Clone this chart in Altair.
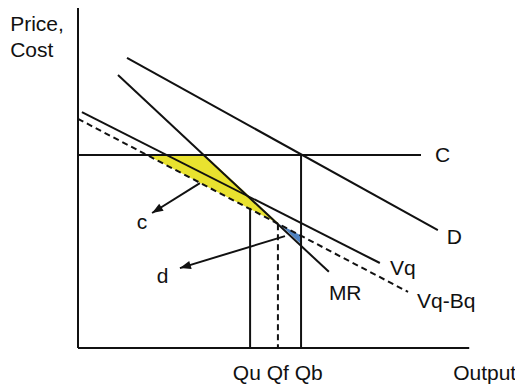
import math
import altair as alt
import pandas as pd

# ---- plot geometry (data units 0..100 on both axes) ----
W, H = 392, 340
X_DOMAIN = [0, 100]
Y_DOMAIN = [0, 100]

# ---- solid line segments (x1, y1) -> (x2, y2) ----
solid_names = ["D", "MR", "Vq", "C", "Qu", "Qb", "yaxis", "xaxis"]
solid_x1 = [12.5, 10.2, 1.0, 0.0, 43.9, 56.9, 0.0, 0.0]
solid_y1 = [85.3, 80.3, 69.4, 56.8, 41.2, 56.8, 100.0, 0.0]
solid_x2 = [91.8, 64.0, 77.0, 87.5, 43.9, 56.9, 0.0, 99.8]
solid_y2 = [34.7, 22.4, 25.0, 56.8, 0.0, 0.0, 0.0, 0.0]

# ---- dashed line segments ----
dash_names = ["Vq-Bq", "Qf"]
dash_x1 = [0.0, 51.0]
dash_y1 = [67.4, 36.4]
dash_x2 = [84.2, 51.0]
dash_y2 = [16.5, 0.0]

# ---- shaded regions (x, upper y, lower y) ----
yellow_x = [17.6, 32.4, 51.4]
yellow_top = [56.8, 56.8, 36.4]
yellow_bot = [56.8, 47.8, 36.4]

blue_x = [51.4, 56.9]
blue_top = [36.4, 33.1]
blue_bot = [36.4, 30.6]

# ---- arrows (start -> tip) ----
arrow_names = ["c", "d"]
arrow_x1 = [31.1, 52.8]
arrow_y1 = [48.5, 32.9]
arrow_x2 = [18.9, 26.0]
arrow_y2 = [39.7, 23.5]

# ---- text labels (left edge, baseline) ----
label_text = ["Price,", "Cost", "c", "d", "Qu Qf Qb", "Output",
              "MR", "Vq", "Vq-Bq", "D", "C"]
label_x = [-17.3, -17.3, 15.0, 20.1, 39.5, 95.7,
           64.0, 79.6, 86.5, 94.1, 91.1]
label_y = [93.2, 85.6, 35.0, 19.1, -9.4, -9.4,
           14.1, 21.5, 11.8, 30.6, 54.7]

BLACK = "#111111"
YELLOW = "#e9e22f"
BLUE = "#4f82c0"
FONT = "Liberation Sans"

xs = alt.Scale(domain=X_DOMAIN, nice=False, zero=False)
ys = alt.Scale(domain=Y_DOMAIN, nice=False, zero=False)

solid_df = pd.DataFrame({"name": solid_names, "x1": solid_x1, "y1": solid_y1,
                         "x2": solid_x2, "y2": solid_y2})
dash_df = pd.DataFrame({"name": dash_names, "x1": dash_x1, "y1": dash_y1,
                        "x2": dash_x2, "y2": dash_y2})
yellow_df = pd.DataFrame({"x": yellow_x, "top": yellow_top, "bot": yellow_bot})
blue_df = pd.DataFrame({"x": blue_x, "top": blue_top, "bot": blue_bot})

# arrowhead angles from the data direction in pixel space
px_per_x = W / (X_DOMAIN[1] - X_DOMAIN[0])
px_per_y = H / (Y_DOMAIN[1] - Y_DOMAIN[0])
angles = []
for x1, y1, x2, y2 in zip(arrow_x1, arrow_y1, arrow_x2, arrow_y2):
    dx = (x2 - x1) * px_per_x
    dy = -(y2 - y1) * px_per_y
    angles.append(math.degrees(math.atan2(dy, dx)) % 360)
arrow_df = pd.DataFrame({"name": arrow_names, "x1": arrow_x1, "y1": arrow_y1,
                         "x2": arrow_x2, "y2": arrow_y2, "ang": angles})
label_df = pd.DataFrame({"t": label_text, "x": label_x, "y": label_y})

X = lambda f: alt.X(f, type="quantitative", scale=xs, axis=None)
Y = lambda f: alt.Y(f, type="quantitative", scale=ys, axis=None)

yellow = alt.Chart(yellow_df).mark_area(color=YELLOW, opacity=1, orient="vertical").encode(
    x=X("x"), y=Y("top"), y2="bot")
blue = alt.Chart(blue_df).mark_area(color=BLUE, opacity=1, orient="vertical").encode(
    x=X("x"), y=Y("top"), y2="bot")

solid = alt.Chart(solid_df).mark_rule(color=BLACK, strokeWidth=2).encode(
    x=X("x1"), y=Y("y1"), x2="x2", y2="y2")
dashed = alt.Chart(dash_df).mark_rule(color=BLACK, strokeWidth=2, strokeDash=[6, 4]).encode(
    x=X("x1"), y=Y("y1"), x2="x2", y2="y2")

arrow_lines = alt.Chart(arrow_df).mark_rule(color=BLACK, strokeWidth=2).encode(
    x=X("x1"), y=Y("y1"), x2="x2", y2="y2")
arrow_heads = alt.Chart(arrow_df).mark_point(
    shape="M 0 0 L -1 -0.38 L -1 0.38 Z", filled=True, size=484,
    color=BLACK, opacity=1, strokeWidth=0).encode(
    x=X("x2"), y=Y("y2"), angle=alt.Angle("ang:Q", scale=None))

labels = alt.Chart(label_df).mark_text(
    align="left", baseline="alphabetic", fontSize=21, font=FONT, color=BLACK).encode(
    x=X("x"), y=Y("y"), text="t:N")

chart = alt.layer(yellow, blue, solid, dashed, arrow_lines, arrow_heads, labels).properties(
    width=W, height=H,
    padding={"left": 70, "top": 0, "right": 45, "bottom": 37},
    autosize=alt.AutoSizeParams(type="none"),
).configure_view(stroke=None)

chart.save("out.html", embed_options={"renderer": "svg", "actions": False})
